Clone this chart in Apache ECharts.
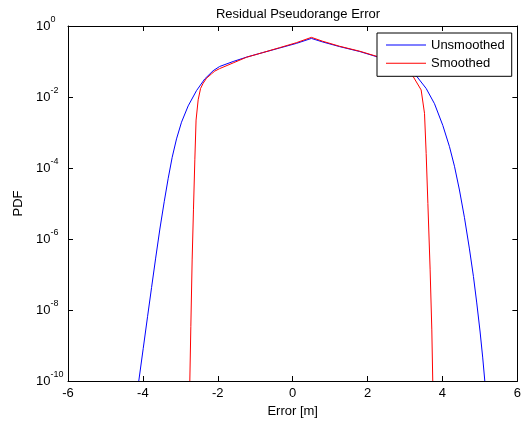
<!DOCTYPE html>
<html>
<head>
<meta charset="utf-8">
<script src="https://cdn.jsdelivr.net/npm/echarts@6/dist/echarts.min.js"></script>
<style>
html,body{margin:0;padding:0;background:#fff;}
#chart{width:524px;height:423px;}
</style>
</head>
<body>
<div id="chart"></div>
<script>
// Data
var seriesNames = ['Unsmoothed', 'Smoothed'];
var xTicks = [-6, -4, -2, 0, 2, 4, 6];

var unsmoothedX = [-4.11, -3.991, -3.876, -3.769, -3.662, -3.547, -3.431, -3.324, -3.218, -3.102, -2.969, -2.791, -2.569, -2.347, -2.124, -1.95, -1.59, -1.23, -0.80, -0.35, 0.10, 0.50, 0.80, 1.25, 1.79, 2.23, 2.60, 2.95, 3.32, 3.564, 3.787, 4.009, 4.187, 4.32, 4.453, 4.587, 4.72, 4.827, 4.915, 5.005, 5.075, 5.13];
var unsmoothedPDF = [1.0e-10, 8.32e-10, 6.46e-9, 4.27e-8, 2.75e-7, 1.91e-6, 1.12e-5, 5.13e-5, 2.00e-4, 6.61e-4, 1.95e-3, 5.62e-3, 1.51e-2, 3.24e-2, 5.50e-2, 7.24e-2, 1.00e-1, 1.33e-1, 1.78e-1, 2.40e-1, 3.24e-1, 4.47e-1, 3.55e-1, 2.63e-1, 1.91e-1, 1.38e-1, 1.0e-1, 6.31e-2, 3.72e-2, 1.74e-2, 6.46e-3, 1.58e-3, 3.98e-4, 1.12e-4, 2.40e-5, 3.98e-6, 5.25e-7, 8.71e-8, 1.58e-8, 2.40e-9, 4.47e-10, 1.0e-10];

var smoothedX = [-2.747, -2.72, -2.685, -2.65, -2.613, -2.58, -2.524, -2.46, -2.39, -2.30, -2.17, -2.08, -1.95, -1.59, -1.23, -0.80, -0.35, 0.10, 0.50, 0.80, 1.25, 1.79, 2.23, 2.60, 2.95, 3.22, 3.43, 3.52, 3.564, 3.61, 3.67, 3.715, 3.74];
var smoothedPDF = [1.0e-10, 3.39e-9, 2.57e-7, 6.61e-6, 1.70e-4, 2.24e-3, 8.32e-3, 1.74e-2, 2.45e-2, 3.39e-2, 4.47e-2, 5.37e-2, 6.31e-2, 9.12e-2, 1.32e-1, 1.78e-1, 2.45e-1, 3.39e-1, 4.79e-1, 3.72e-1, 2.69e-1, 1.95e-1, 1.41e-1, 1.02e-1, 6.46e-2, 3.72e-2, 1.58e-2, 3.47e-3, 2.57e-4, 1.0e-5, 1.35e-7, 2.75e-9, 1.0e-10];

function pairs(xs, ys) {
  var out = [];
  for (var i = 0; i < xs.length; i++) out.push([xs[i], ys[i]]);
  return out;
}

var FONT = '"Liberation Sans", Arial, Helvetica, sans-serif';
var chart = echarts.init(document.getElementById('chart'), null, {renderer: 'canvas'});

var axisLineStyle = {show: true, onZero: false, lineStyle: {color: '#000', width: 1}};
var tickStyle = {show: true, inside: true, length: 5, lineStyle: {color: '#000', width: 1}};

function supLabel(v) {
  var e = Math.round(Math.log10(v));
  return '{b|10}{s|' + e + '}';
}

var option = {
  backgroundColor: '#fff',
  animation: false,
  title: {
    text: 'Residual Pseudorange Error',
    left: 293,
    textAlign: 'center',
    top: 3,
    textStyle: {fontFamily: FONT, fontSize: 13, fontWeight: 'normal', color: '#000'}
  },
  grid: {left: 68, right: 5, top: 26, bottom: 42, containLabel: false},
  legend: {
    data: seriesNames,
    orient: 'vertical',
    left: 377,
    top: 33,
    padding: [5, 7, 6, 9],
    icon: 'rect',
    itemWidth: 40,
    itemHeight: 1,
    itemGap: 4.3,
    backgroundColor: '#fff',
    borderColor: '#000',
    borderWidth: 1,
    z: 10,
    textStyle: {fontFamily: FONT, fontSize: 13, color: '#000', lineHeight: 14}
  },
  xAxis: [{
    type: 'value', position: 'bottom', min: xTicks[0], max: xTicks[xTicks.length - 1], interval: 2,
    axisLine: axisLineStyle, axisTick: tickStyle, splitLine: {show: false},
    axisLabel: {color: '#000', fontFamily: FONT, fontSize: 13, margin: 6},
    name: 'Error [m]', nameLocation: 'middle', nameGap: 22,
    nameTextStyle: {color: '#000', fontFamily: FONT, fontSize: 13}
  }, {
    type: 'value', position: 'top', min: xTicks[0], max: xTicks[xTicks.length - 1], interval: 2,
    axisLine: axisLineStyle, axisTick: tickStyle, splitLine: {show: false},
    axisLabel: {show: false}
  }],
  yAxis: [{
    type: 'log', logBase: 100, min: 1e-10, max: 1, position: 'left',
    axisLine: axisLineStyle, axisTick: tickStyle, splitLine: {show: false}, minorTick: {show: false},
    axisLabel: {
      align: 'left', margin: 32, formatter: supLabel,
      rich: {
        b: {fontFamily: FONT, fontSize: 13, color: '#000', lineHeight: 21, verticalAlign: 'middle'},
        s: {fontFamily: FONT, fontSize: 9, color: '#000', lineHeight: 10, verticalAlign: 'top'}
      }
    },
    name: 'PDF', nameLocation: 'middle', nameGap: 41,
    nameTextStyle: {color: '#000', fontFamily: FONT, fontSize: 13}
  }, {
    type: 'log', logBase: 100, min: 1e-10, max: 1, position: 'right',
    axisLine: axisLineStyle, axisTick: tickStyle, splitLine: {show: false},
    axisLabel: {show: false}
  }],
  series: [{
    name: seriesNames[0], type: 'line', xAxisIndex: 0, yAxisIndex: 0,
    data: pairs(unsmoothedX, unsmoothedPDF),
    symbol: 'none', smooth: false, clip: true,
    lineStyle: {color: '#0000ff', width: 1}, itemStyle: {color: '#0000ff'}
  }, {
    name: seriesNames[1], type: 'line', xAxisIndex: 0, yAxisIndex: 0,
    data: pairs(smoothedX, smoothedPDF),
    symbol: 'none', smooth: false, clip: true,
    lineStyle: {color: '#ff0000', width: 1}, itemStyle: {color: '#ff0000'}
  }]
};
chart.setOption(option);
</script>
</body>
</html>
